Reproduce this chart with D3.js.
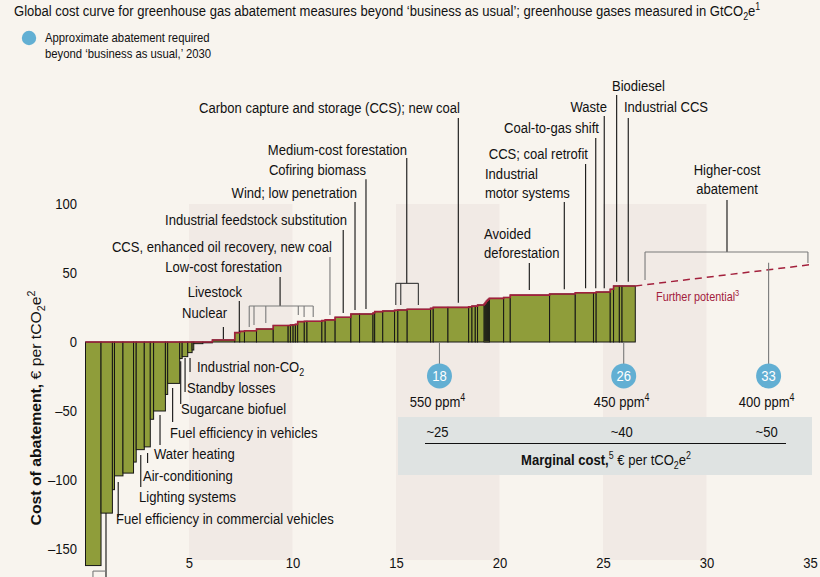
<!DOCTYPE html>
<html><head><meta charset="utf-8">
<script src="https://cdn.jsdelivr.net/npm/d3@7"></script>
<style>
html,body{margin:0;padding:0;background:#f8f4ee;}
svg{display:block;font-family:"Liberation Sans",Arial,Helvetica,sans-serif;}
</style></head><body>
<svg id="chart" width="820" height="577"></svg>
<script>
// ---- data (GtCO2e widths, € per tCO2e costs) ----
const widths = [0.75,0.55,0.10,0.41,0.51,0.13,0.39,0.29,0.16,0.57,0.11,0.58,0.12,0.27,0.21,0.08,
  0.44,0.46,
  1.08,0.24,0.23,0.58,0.81,0.72,0.11,0.13,0.11,0.11,0.32,0.13,0.72,0.16,0.48,0.76,0.42,0.65,0.08,0.39,0.57,0.16,0.45,1.13,0.13,0.71,1.00,0.16,0.16,0.11,0.32,
  0.05,0.05,0.05,0.05,0.05,
  0.69,0.32,1.90,1.24,0.88,0.13,0.68,0.16,0.28,0.13,0.64];
const costs = [-162,-124,-107,-97,-95,-87,-78,-76,-56,-50,-38,-30,-12,-10.6,-7.7,-5.8,
  -1.2,-0.6,
  1.5,6.8,7.7,8.2,9.4,12,12,12.3,12.5,12.8,14.8,15,15,15.5,16,17.9,20.3,20.3,21,22,22.5,23,23.2,23.7,24.4,25.1,25.1,25.5,26,26,26.8,
  27.5,28.5,29.5,30.3,31,
  31.6,32.3,34,34.8,35.7,35.7,36.2,38.2,40.6,40.6,40.6];
const xTicks = [5,10,15,20,25,30,35];
const yTicks = [-150,-100,-50,0,50,100];
const bandRanges = [[5,10],[15,20],[25,30]];
const targetLabels = ["18","26","33"];
const targetPositions = [17.1,26,33];
const ppmLabels = ["550 ppm^4","450 ppm^4","400 ppm^4"];
const marginalCosts = ["~25","~40","~50"];
const furtherPotential = [[26.56,40.6],[35,56]];

// ---- scales ----
const svg = d3.select("#chart");
const x = d3.scaleLinear().domain([0,35]).range([85.5,810]);
const y = d3.scaleLinear().domain([-150,100]).range([549,204]);
const K = 0.87; // horizontal condensing to mimic a condensed typeface

const C = {fill:"#8f9d3a", stroke:"#161616", red:"#a3203c", gray:"#7a7a7a", blue:"#62afd3", band:"#f1eae5", box:"#dfe3e2", text:"#111"};

function rich(sel, str, fs){
  const parts = str.split(/(\*\*[^*]+\*\*|_\d|\^\d)/).filter(s=>s);
  let cur = 0;
  parts.forEach(p=>{
    const ts = sel.append("tspan");
    let d = 0, txt = p, size = null, bold = false;
    if (p.startsWith("**")) { txt = p.slice(2,-2); bold = true; }
    else if (p[0]==="_" ) { d = fs*0.28; txt = p[1]; size = fs*0.68; }
    else if (p[0]==="^") { d = -fs*0.38; txt = p[1]; size = fs*0.68; }
    if (d !== cur) ts.attr("dy", d-cur);
    cur = d;
    if (size) ts.attr("font-size", size);
    if (bold) ts.attr("font-weight","bold");
    ts.text(txt);
  });
}
function label(str, px, py, anchor, fs, color, rot, k){
  const t = svg.append("text").attr("x",0).attr("y",0).attr("text-anchor",anchor||"start")
    .attr("font-size",fs).attr("fill",color||C.text)
    .attr("transform",`translate(${px},${py})${rot?` rotate(${rot})`:""} scale(${k||K},1)`);
  rich(t,str,fs);
  return t;
}

// ---- background bands ----
svg.append("g").selectAll("rect").data(bandRanges).join("rect")
  .attr("x",d=>x(d[0])).attr("width",d=>x(d[1])-x(d[0]))
  .attr("y",y(100)).attr("height",y(-158)-y(100)).attr("fill",C.band);

// marginal cost box
svg.append("rect").attr("x",398).attr("y",417).attr("width",414).attr("height",58).attr("fill",C.box);

// ---- bars ----
let acc = 0;
const bars = widths.map((w,i)=>{ const b={x0:acc,x1:acc+w,v:costs[i]}; acc+=w; return b; });
svg.append("g").selectAll("rect").data(bars).join("rect")
  .attr("x",d=>x(d.x0)).attr("width",d=>x(d.x1)-x(d.x0))
  .attr("y",d=>y(Math.max(0,d.v))).attr("height",d=>Math.abs(y(d.v)-y(0)))
  .attr("fill",C.fill).attr("stroke",C.stroke).attr("stroke-width",1);

// red curve outline along top
const pts = [];
bars.forEach(b=>{ const t=Math.max(0,b.v); pts.push([b.x0,t],[b.x1,t]); });
svg.append("path").datum(pts).attr("fill","none").attr("stroke",C.red).attr("stroke-width",1.6)
  .attr("d",d3.line().x(d=>x(d[0])).y(d=>y(d[1])));

// further potential dashed
svg.append("path").datum(furtherPotential).attr("fill","none").attr("stroke",C.red)
  .attr("stroke-width",1.5).attr("stroke-dasharray","7,5")
  .attr("d",d3.line().x(d=>x(d[0])).y(d=>y(d[1])));

// ---- axes ----
const xAxis = svg.append("g").attr("transform","translate(0,555)")
  .call(d3.axisBottom(x).tickValues(xTicks).tickSize(0).tickPadding(2).tickFormat(d3.format("d")));
xAxis.select(".domain").remove();
xAxis.selectAll("text").attr("font-size",15).attr("fill",C.text).attr("font-family",null)
  .attr("transform",`scale(${K},1)`);
const yAxis = svg.append("g").attr("transform","translate(85.5,0)")
  .call(d3.axisLeft(y).tickValues(yTicks).tickSize(0).tickFormat(d=>d<0?"\u2013"+Math.abs(d):d));
yAxis.select(".domain").remove();
yAxis.selectAll("text").attr("font-size",15).attr("fill",C.text).attr("font-family",null)
  .attr("x",-8.5/K).attr("transform",`scale(${K},1)`);

// y axis title
label("**Cost of abatement,** € per tCO_2e^2", 41, 408, "middle", 15, C.text, -90, 1.05);

// ---- leader lines (x in Gt, y in €) ----
const leaders = [
  [5.05,-11.6,-21.7],[4.81,-11.6,-36.2],[4.60,-14,-45],[4.21,-33.3,-58],
  [3.60,-52.9,-74.6],[3.00,-80.4,-87.7],[2.67,-81.9,-105],[1.58,-101.4,-126.8],
  [0.99,-124,-172],
  [6.66,10.9,2.2],[7.43,29.7,7.2],[9.40,47.1,26.1],
  [12.45,81.2,21],[13.02,101.4,23.2],[13.55,118,23.9],[15.52,133.3,42.5],
  [18.01,162.3,28.5],[21.44,57.2,37.7],[23.13,101.4,38.2],[24.16,129,38.9],
  [24.65,147.8,38.9],[25.06,163.8,38.9],[25.66,179,43.7],[26.22,162.3,43.7],
  [30.99,102.9,65.2]
];
svg.append("g").selectAll("line").data(leaders).join("line")
  .attr("x1",d=>x(d[0])).attr("x2",d=>x(d[0])).attr("y1",d=>y(d[1])).attr("y2",d=>y(d[2]))
  .attr("stroke","#111").attr("stroke-width",1.1);
// gray brackets
const grayLines = [
  [[0.36,-166],[0.99,-166]],[[0.36,-166],[0.36,-172]],
  [[7.91,26.1],[11.0,26.1]],[[7.91,26.1],[7.91,10.9]],[[8.14,26.1],[8.14,12.3]],[[8.71,26.1],[8.71,13.8]],
  [[10.28,26.1],[10.28,19.6]],[[10.56,26.1],[10.56,18.1]],[[11.0,26.1],[11.0,18.1]],
  [[11.81,61.6],[11.81,19.6]],
  [[27.03,65.2],[34.9,65.2]],[[27.03,65.2],[27.03,44.9]],[[34.9,65.2],[34.9,57.2]]
];
const darkBrackets = [
  [[14.99,42.5],[16.08,42.5]],[[14.99,42.5],[14.99,26.8]],[[15.23,42.5],[15.23,26.8]],[[16.08,42.5],[16.08,26.8]]
];
svg.append("g").selectAll("line").data(grayLines).join("line")
  .attr("x1",d=>x(d[0][0])).attr("y1",d=>y(d[0][1])).attr("x2",d=>x(d[1][0])).attr("y2",d=>y(d[1][1]))
  .attr("stroke",C.gray).attr("stroke-width",1.1);
svg.append("g").selectAll("line").data(darkBrackets).join("line")
  .attr("x1",d=>x(d[0][0])).attr("y1",d=>y(d[0][1])).attr("x2",d=>x(d[1][0])).attr("y2",d=>y(d[1][1]))
  .attr("stroke","#333").attr("stroke-width",1.1);

// ---- targets ----
const tg = svg.append("g");
tg.selectAll("line").data(targetPositions).join("line")
  .attr("x1",d=>x(d)).attr("x2",d=>x(d))
  .attr("y1",(d,i)=> i===2 ? y(57.5) : y(0)).attr("y2",y(-17))
  .attr("stroke",C.gray).attr("stroke-width",1.1);
tg.selectAll("circle").data(targetPositions).join("circle")
  .attr("cx",d=>x(d)).attr("cy",y(-24.6)).attr("r",12.5).attr("fill",C.blue);
targetLabels.forEach((s,i)=>label(s, x(targetPositions[i]), y(-24.6)+5, "middle", 15, "#fff"));
ppmLabels.forEach((s,i)=>label(s, x(targetPositions[i])-2, 407, "middle", 15));
marginalCosts.forEach((s,i)=>label(s, x(targetPositions[i])-2, 437, "middle", 15));
svg.append("line").attr("x1",425).attr("x2",786).attr("y1",443.5).attr("y2",443.5).attr("stroke","#111").attr("stroke-width",1.2);
label("**Marginal cost,**^5 € per tCO_2e^2", 606, 465, "middle", 15);

// ---- annotation texts ----
const texts = [
  ["Industrial non-CO_2",197,372,"start"],["Standby losses",187,393,"start"],
  ["Sugarcane biofuel",181,414,"start"],["Fuel efficiency in vehicles",170,438,"start"],
  ["Water heating",154,459,"start"],["Air-conditioning",143,481,"start"],
  ["Lighting systems",139,502,"start"],["Fuel efficiency in commercial vehicles",116,524,"start"],
  ["Nuclear",227,318,"end"],["Livestock",242,297,"end"],["Low-cost forestation",282,272,"end"],
  ["CCS, enhanced oil recovery, new coal",332,252,"end"],["Industrial feedstock substitution",347,225,"end"],
  ["Wind; low penetration",357,198,"end"],["Cofiring biomass",366,175,"end"],
  ["Medium-cost forestation",407,155,"end"],["Carbon capture and storage (CCS); new coal",460,113,"end"],
  ["Avoided",484,239,"start"],["deforestation",484,258,"start"],
  ["Industrial",485,179,"start"],["motor systems",485,198,"start"],
  ["CCS; coal retrofit",588,159,"end"],["Coal-to-gas shift",599,133,"end"],["Waste",607,112,"end"],
  ["Biodiesel",612,91,"start"],["Industrial CCS",624,112,"start"],
  ["Higher-cost",727,175,"middle"],["abatement",727,194,"middle"]
];
texts.forEach(d=>label(d[0],d[1],d[2],d[3],15));
label("Further potential^3", 656, 301, "start", 12.5, C.red);

// ---- title & legend ----
label("Global cost curve for greenhouse gas abatement measures beyond \u2018business as usual\u2019; greenhouse gases measured in GtCO_2e^1", 14, 16, "start", 15);
svg.append("circle").attr("cx",29).attr("cy",38).attr("r",7.2).attr("fill",C.blue);
label("Approximate abatement required", 45, 42, "start", 13);
label("beyond \u2018business as usual,\u2019 2030", 45, 58, "start", 13);
</script>
</body></html>
